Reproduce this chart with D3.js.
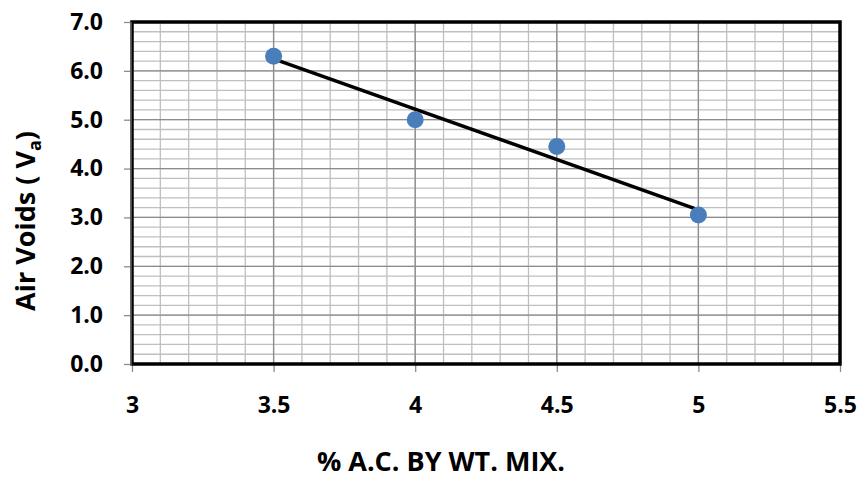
<!DOCTYPE html>
<html>
<head>
<meta charset="utf-8">
<script src="https://cdn.jsdelivr.net/npm/d3@7/dist/d3.min.js"></script>
<style>
  html, body { margin: 0; padding: 0; background: #fff; }
  svg { display: block; }
  text { font-family: "Open Sans", "Liberation Sans", sans-serif; font-weight: 700; fill: #000; }
</style>
</head>
<body>
<svg id="chart" width="861" height="478"></svg>
<script>
// Asphalt content (% by weight of mix) and measured air voids
const acContent = [3.5, 4.0, 4.5, 5.0];
const airVoids = [6.3, 5.0, 4.45, 3.05];
const xTicks = [3, 3.5, 4, 4.5, 5, 5.5];
const yTicks = [0, 1, 2, 3, 4, 5, 6, 7];

const svg = d3.select("#chart");
const margin = { left: 132, right: 21, top: 22, bottom: 114 };
const W = 861, H = 478;

const x = d3.scaleLinear().domain([3, 5.5]).range([margin.left, W - margin.right]);
const y = d3.scaleLinear().domain([0, 7]).range([H - margin.bottom, margin.top]);

const g = svg.append("g");

// Minor grid: every 0.1 on x, every 0.2 on y
const xMinor = d3.range(30, 56).map(v => v / 10);
const yMinor = d3.range(0, 36).map(v => v / 5);

g.append("g").selectAll("line").data(xMinor).join("line")
  .attr("x1", d => x(d)).attr("x2", d => x(d))
  .attr("y1", y(0)).attr("y2", y(7))
  .attr("stroke", "#bfbfbf").attr("stroke-width", 1.3);
g.append("g").selectAll("line").data(yMinor).join("line")
  .attr("x1", x(3)).attr("x2", x(5.5))
  .attr("y1", d => y(d)).attr("y2", d => y(d))
  .attr("stroke", "#bfbfbf").attr("stroke-width", 1.3);

// Major grid
g.append("g").selectAll("line").data(xTicks).join("line")
  .attr("x1", d => x(d)).attr("x2", d => x(d))
  .attr("y1", y(0)).attr("y2", y(7))
  .attr("stroke", "#8c8c8c").attr("stroke-width", 1.3);
g.append("g").selectAll("line").data(yTicks).join("line")
  .attr("x1", x(3)).attr("x2", x(5.5))
  .attr("y1", d => y(d)).attr("y2", d => y(d))
  .attr("stroke", "#8c8c8c").attr("stroke-width", 1.3);

// Axes
const xAxis = d3.axisBottom(x).tickValues(xTicks).tickSize(8).tickPadding(25)
  .tickFormat(d => String(d));
const yAxis = d3.axisLeft(y).tickValues(yTicks).tickSize(8).tickPadding(21)
  .tickFormat(d3.format(".1f"));

const gx = svg.append("g").attr("transform", `translate(0,${y(0)})`).call(xAxis);
const gy = svg.append("g").attr("transform", `translate(${x(3)},0)`).call(yAxis);
[gx, gy].forEach(a => {
  a.select(".domain").remove();
  a.selectAll(".tick line").attr("stroke", "#8c8c8c").attr("stroke-width", 1.3);
  a.selectAll(".tick text").style("font-size", "23px").style("font-weight", 700)
    .attr("fill", "#000");
});

// Plot frame
svg.append("rect")
  .attr("x", x(3)).attr("y", y(7))
  .attr("width", x(5.5) - x(3)).attr("height", y(0) - y(7))
  .attr("fill", "none").attr("stroke", "#000").attr("stroke-width", 3.5);
svg.append("line")
  .attr("x1", x(3) - 1).attr("x2", x(3) - 1).attr("y1", y(7)).attr("y2", y(0) + 2)
  .attr("stroke", "#7f7f7f").attr("stroke-width", 1.2);

// Linear trend line over the measured range
const mx = d3.mean(acContent), my = d3.mean(airVoids);
const sxy = d3.sum(acContent, (v, i) => (v - mx) * (airVoids[i] - my));
const sxx = d3.sum(acContent, v => (v - mx) ** 2);
const slope = sxy / sxx, intercept = my - slope * mx;
const xs = d3.extent(acContent);
svg.append("line")
  .attr("x1", x(xs[0])).attr("y1", y(intercept + slope * xs[0]))
  .attr("x2", x(xs[1])).attr("y2", y(intercept + slope * xs[1]))
  .attr("stroke", "#000").attr("stroke-width", 3.5).attr("stroke-linecap", "round");

// Data points
svg.append("g").selectAll("circle").data(acContent).join("circle")
  .attr("cx", d => x(d)).attr("cy", (d, i) => y(airVoids[i]))
  .attr("r", 8.5).attr("fill", "#4a7ebb");

// Axis titles
svg.append("text")
  .attr("x", 441).attr("y", 471)
  .attr("text-anchor", "middle").style("font-size", "27px")
  .text("% A.C. BY WT. MIX.");

const yt = svg.append("text")
  .attr("transform", "translate(35,221) rotate(-90)")
  .attr("text-anchor", "middle").style("font-size", "27px");
yt.append("tspan").text("Air Voids ( V");
yt.append("tspan").attr("dy", 6).style("font-size", "18px").text("a");
yt.append("tspan").attr("dy", -6).text(")");
</script>
</body>
</html>
